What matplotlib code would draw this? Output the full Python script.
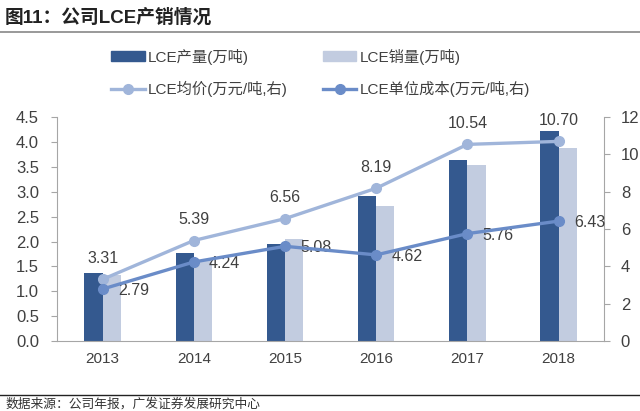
import matplotlib
matplotlib.use("Agg")
import matplotlib.pyplot as plt
from matplotlib.lines import Line2D
from matplotlib.patches import Patch
import numpy as np

plt.rcParams['font.family'] = ['Liberation Sans', 'Noto Sans CJK SC', 'DejaVu Sans']

# data
years = ['2013', '2014', '2015', '2016', '2017', '2018']
production = [1.36, 1.77, 1.96, 2.91, 3.63, 4.22]
sales = [1.33, 1.62, 2.05, 2.72, 3.53, 3.88]
avg_price = [3.31, 5.39, 6.56, 8.19, 10.54, 10.70]
unit_cost = [2.79, 4.24, 5.08, 4.62, 5.76, 6.43]

dark_bar = '#34598F'
light_bar = '#C2CCE0'
price_col = '#A0B5DA'
cost_col = '#6A8CC8'
axis_col = '#A6A6A6'
text_col = '#404040'

fig = plt.figure(figsize=(6.4, 4.11), dpi=100)
ax = fig.add_axes([0.089, 0.170, 0.855, 0.545])
ax2 = ax.twinx()

x = np.arange(len(years))
w = 0.2
ax.bar(x - w / 2, production, w, color=dark_bar, zorder=2)
ax.bar(x + w / 2, sales, w, color=light_bar, zorder=2)

ax2.plot(x, avg_price, color=price_col, lw=2.4, marker='o', ms=7, zorder=3)
ax2.plot(x, unit_cost, color=cost_col, lw=2.4, marker='o', ms=7, zorder=4)

for xi, v in zip(x, avg_price):
    ax2.annotate(f'{v:.2f}', (xi, v), xytext=(0, 15), textcoords='offset points',
                 ha='center', va='center', fontsize=11.5, color=text_col)
for xi, v in zip(x, unit_cost):
    ax2.annotate(f'{v:.2f}', (xi, v), xytext=(11, -1), textcoords='offset points',
                 ha='left', va='center', fontsize=11.5, color=text_col)

ax.set_xlim(-0.5, 5.5)
ax.set_ylim(0, 4.5)
ax.set_yticks(np.arange(0, 4.51, 0.5))
ax.set_yticklabels([f'{t:.1f}' for t in np.arange(0, 4.51, 0.5)])
ax2.set_ylim(0, 12)
ax2.set_yticks(range(0, 13, 2))
ax.set_xticks(x)
ax.set_xticklabels(years)

for a in (ax, ax2):
    a.spines['top'].set_visible(False)
    for s in ['left', 'right', 'bottom']:
        a.spines[s].set_color(axis_col)
ax.spines['right'].set_visible(False)
ax2.spines['left'].set_visible(False)
ax2.spines['bottom'].set_visible(False)

ax.tick_params(axis='y', colors=axis_col, labelcolor=text_col, labelsize=12, length=4, pad=9)
ax.tick_params(axis='x', length=0, labelcolor=text_col, labelsize=11, pad=8)
ax2.tick_params(axis='y', colors=axis_col, labelcolor=text_col, labelsize=12, length=4, pad=8)

# legend filled column-wise, so order gives bars on row 1, lines on row 2
handles = [
    Patch(color=dark_bar, label='LCE产量(万吨)'),
    Line2D([], [], color=price_col, lw=2.4, marker='o', ms=7, label='LCE均价(万元/吨,右)'),
    Patch(color=light_bar, label='LCE销量(万吨)'),
    Line2D([], [], color=cost_col, lw=2.4, marker='o', ms=7, label='LCE单位成本(万元/吨,右)'),
]
leg = fig.legend(handles=handles, ncol=2, loc='upper left', bbox_to_anchor=(0.152, 0.915),
                 frameon=False, fontsize=11, handlelength=2.2, handleheight=0.6,
                 columnspacing=2.3, labelspacing=1.05, handletextpad=0.2)
for t in leg.get_texts():
    t.set_color(text_col)

# title and source
fig.text(0.008, 0.958, '图11：公司LCE产销情况', fontsize=13.5, fontweight='bold',
         ha='left', va='center', color='#222222', family=['Liberation Sans', 'Noto Sans CJK SC'])
fig.add_artist(Line2D([0, 1], [0.922, 0.922], color='#888888', lw=1.2))
fig.add_artist(Line2D([0, 1], [0.038, 0.038], color='#222222', lw=1.0))
fig.text(0.008, 0.016, '数据来源：公司年报，广发证券发展研究中心', fontsize=9.2,
         ha='left', va='center', color='#333333', family=['Noto Sans CJK SC'])

fig.savefig('out.png', dpi=100)
